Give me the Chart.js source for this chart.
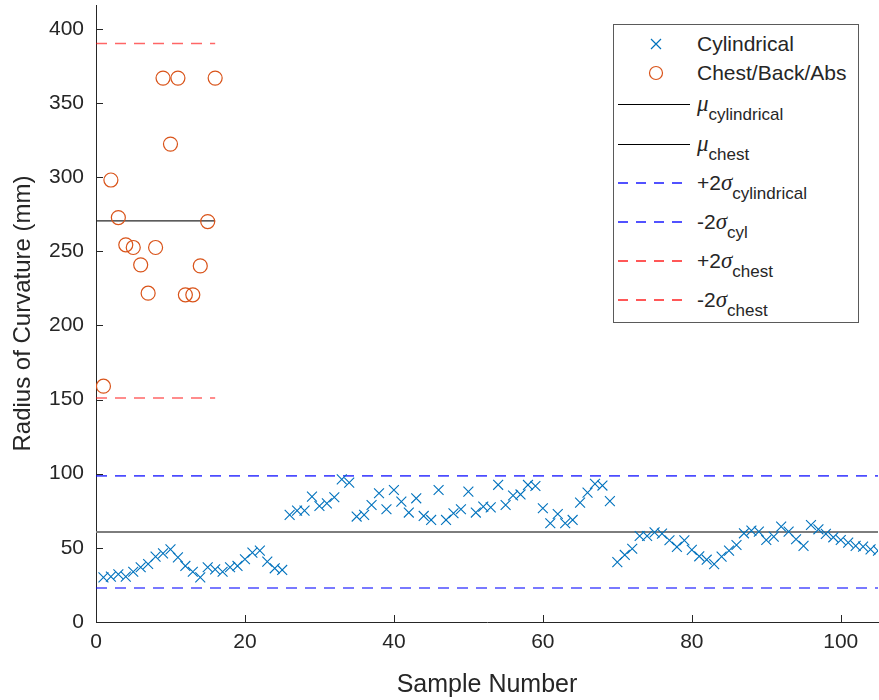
<!DOCTYPE html>
<html>
<head>
<meta charset="utf-8">
<script src="https://cdn.jsdelivr.net/npm/chart.js@4.4.1/dist/chart.umd.min.js"></script>
<style>
  body { margin: 0; background: #fff; }
  #wrap { position: relative; width: 879px; height: 700px; }
  #legend {
    position: absolute; left: 613px; top: 24px; width: 244px; height: 297px;
    border: 1px solid #5a5a5a; background: #fff;
    font-family: "Liberation Sans", Arial, sans-serif; color: #262626;
  }
  .row { position: absolute; left: 0; width: 100%; height: 0; }
  .row svg { position: absolute; left: 4px; top: -10px; }
  .lbl { position: absolute; left: 83px; top: -12px; line-height: 24px; font-size: 21px; white-space: nowrap; }
  .gr { font-family: "Liberation Serif", serif; font-style: italic; font-size: 23px; }
  .sub { font-size: 17px; position: relative; top: 9px; }
</style>
</head>
<body>
<div id="wrap">
  <canvas id="chart" width="879" height="700"></canvas>
  <div id="legend">
    <div class="row" style="top:19px">
      <svg width="74" height="20"><path d="M33,5 L43,15 M43,5 L33,15" stroke="#0072BD" stroke-width="1.2"/></svg>
      <span class="lbl">Cylindrical</span>
    </div>
    <div class="row" style="top:48px">
      <svg width="74" height="20"><circle cx="38" cy="10" r="6.5" fill="none" stroke="#D95319" stroke-width="1.2"/></svg>
      <span class="lbl">Chest/Back/Abs</span>
    </div>
    <div class="row" style="top:79px">
      <svg width="74" height="20"><line x1="0" y1="10.5" x2="72" y2="10.5" stroke="#000" stroke-width="1"/></svg>
      <span class="lbl"><span class="gr">μ</span><span class="sub">cylindrical</span></span>
    </div>
    <div class="row" style="top:119px">
      <svg width="74" height="20"><line x1="0" y1="10.5" x2="72" y2="10.5" stroke="#000" stroke-width="1"/></svg>
      <span class="lbl"><span class="gr">μ</span><span class="sub">chest</span></span>
    </div>
    <div class="row" style="top:158px">
      <svg width="74" height="20"><line x1="0" y1="10" x2="72" y2="10" stroke="#1a1aff" stroke-width="1.3" stroke-dasharray="10 8"/></svg>
      <span class="lbl">+2<span class="gr">σ</span><span class="sub">cylindrical</span></span>
    </div>
    <div class="row" style="top:197px">
      <svg width="74" height="20"><line x1="0" y1="10" x2="72" y2="10" stroke="#1a1aff" stroke-width="1.3" stroke-dasharray="10 8"/></svg>
      <span class="lbl">-2<span class="gr">σ</span><span class="sub">cyl</span></span>
    </div>
    <div class="row" style="top:236px">
      <svg width="74" height="20"><line x1="0" y1="10" x2="72" y2="10" stroke="#ff2020" stroke-width="1.3" stroke-dasharray="10 8"/></svg>
      <span class="lbl">+2<span class="gr">σ</span><span class="sub">chest</span></span>
    </div>
    <div class="row" style="top:275px">
      <svg width="74" height="20"><line x1="0" y1="10" x2="72" y2="10" stroke="#ff2020" stroke-width="1.3" stroke-dasharray="10 8"/></svg>
      <span class="lbl">-2<span class="gr">σ</span><span class="sub">chest</span></span>
    </div>
  </div>
</div>
<script>
// radius of curvature per sample (mm)
const cylRadius = [
  30.1, 30.6, 32.2, 30.6, 33.9, 36.9, 39.1, 44.1, 46.3, 49.0,
  43.6, 37.8, 33.9, 30.1, 36.9, 35.5, 33.9, 36.9, 37.8, 42.3,
  46.8, 48.1, 40.7, 36.2, 35.1,
  72.2, 75.1, 75.1, 84.5, 78.2, 80.0, 84.1, 96.2, 94.0,
  71.1, 72.2, 78.9, 86.8, 76.0, 89.0, 81.2, 73.8, 83.4, 71.5,
  68.8, 89.0, 68.8, 73.3, 76.0, 87.9, 73.8, 77.8, 77.3, 92.5,
  78.9, 85.3, 86.0,
  92.4, 91.7, 76.7, 66.6, 72.8, 66.6, 68.8, 80.5, 87.2, 93.1, 92.0, 81.5,
  40.4, 45.2, 49.4, 58.0, 58.0, 60.4, 59.6, 55.1, 50.6, 55.0, 48.6, 44.3, 42.0, 39.0,
  44.1, 48.1, 51.9, 59.8, 61.6, 60.9, 55.3, 57.6, 64.3, 60.9, 55.8,
  51.3, 65.4, 62.5, 59.4, 57.1, 55.3, 53.5, 51.3, 50.8, 49.0, 48.1
];
const chestRadius = [
  159.0, 298.0, 272.7, 254.3, 252.5, 240.8, 221.7, 252.5,
  366.7, 322.2, 366.7, 220.6, 220.6, 240.1, 270.0, 366.7
];

// mean and +/-2 sigma levels
const cylMean = 60.7, cylPlus2Sigma = 98.5, cylMinus2Sigma = 22.9;
const chestMean = 270.5, chestPlus2Sigma = 390, chestMinus2Sigma = 151;

const xTicks = [0, 20, 40, 60, 80, 100];
const yTicks = [0, 50, 100, 150, 200, 250, 300, 350, 400];
const xMax = 105, yMax = 416;
const chestSpan = 16;

const toPoints = arr => arr.map((v, i) => ({ x: i + 1, y: v }));
const hLine = (y, x1) => [{ x: 0, y: y }, { x: x1, y: y }];

const TEXT = '#262626';
const FONT = '"Liberation Sans", Arial, sans-serif';

function lineSet(label, y, x1, color, width, dash) {
  return {
    label, data: hLine(y, x1), showLine: true, pointRadius: 0,
    borderColor: color, borderWidth: width, borderDash: dash || [], fill: false
  };
}

// kill the automatic label overflow padding so the plot box sits where the original one does
function noPad(s) {
  s.paddingLeft = 0; s.paddingRight = 0; s.paddingTop = 0; s.paddingBottom = 0;
}

/* inward tick marks like the original */
const innerTicks = {
  id: 'innerTicks',
  afterDraw(chart) {
    const { ctx, chartArea: a, scales: { x, y } } = chart;
    ctx.save();
    ctx.strokeStyle = TEXT;
    ctx.lineWidth = 1;
    ctx.beginPath();
    y.ticks.forEach(t => {
      const py = Math.round(y.getPixelForValue(t.value)) + 0.5;
      ctx.moveTo(a.left, py); ctx.lineTo(a.left + 7, py);
    });
    x.ticks.forEach(t => {
      const px = Math.round(x.getPixelForValue(t.value)) + 0.5;
      ctx.moveTo(px, a.bottom); ctx.lineTo(px, a.bottom - 7);
    });
    ctx.stroke();
    ctx.restore();
  }
};

new Chart(document.getElementById('chart'), {
  type: 'scatter',
  data: {
    datasets: [
      {
        label: 'Cylindrical', data: toPoints(cylRadius),
        pointStyle: 'crossRot', pointRadius: 7, borderColor: '#0072BD', borderWidth: 1.1
      },
      {
        label: 'Chest/Back/Abs', data: toPoints(chestRadius),
        pointStyle: 'circle', pointRadius: 7, borderColor: '#D95319',
        backgroundColor: 'rgba(0,0,0,0)', borderWidth: 1.2
      },
      lineSet('mu_cyl', cylMean, xMax, '#7d7d7d', 2),
      lineSet('mu_chest', chestMean, chestSpan, '#262626', 1.2),
      lineSet('+2s_cyl', cylPlus2Sigma, xMax, 'rgba(0,0,255,0.7)', 1.6, [11, 8]),
      lineSet('-2s_cyl', cylMinus2Sigma, xMax, 'rgba(0,0,255,0.7)', 1.6, [11, 8]),
      lineSet('+2s_chest', chestPlus2Sigma, chestSpan, 'rgba(255,0,0,0.6)', 1.6, [11, 8]),
      lineSet('-2s_chest', chestMinus2Sigma, chestSpan, 'rgba(255,0,0,0.6)', 1.6, [11, 8])
    ]
  },
  options: {
    responsive: false,
    animation: false,
    layout: { autoPadding: false, padding: { top: 5, right: 1, left: 0, bottom: 0 } },
    plugins: { legend: { display: false }, tooltip: { enabled: false } },
    scales: {
      x: {
        type: 'linear', min: 0, max: xMax,
        afterBuildTicks: s => { s.ticks = xTicks.map(v => ({ value: v })); },
        afterFit: s => { s.height = 78; noPad(s); },
        grid: { display: false, drawTicks: false },
        border: { display: true, color: TEXT, width: 1 },
        ticks: { color: TEXT, font: { family: FONT, size: 21 }, padding: 8, maxRotation: 0 },
        title: { display: true, text: 'Sample Number', color: TEXT, font: { family: FONT, size: 25 }, padding: { top: 0, bottom: 0 } }
      },
      y: {
        type: 'linear', min: 0, max: yMax,
        afterBuildTicks: s => { s.ticks = yTicks.map(v => ({ value: v })); },
        afterFit: s => { s.width = 96; noPad(s); },
        grid: { display: false, drawTicks: false },
        border: { display: true, color: TEXT, width: 1 },
        ticks: { color: TEXT, font: { family: FONT, size: 21 }, padding: 12 },
        title: { display: true, text: 'Radius of Curvature (mm)', color: TEXT, font: { family: FONT, size: 24 }, padding: { top: 9, bottom: 0 } }
      }
    }
  },
  plugins: [innerTicks]
});
</script>
</body>
</html>
